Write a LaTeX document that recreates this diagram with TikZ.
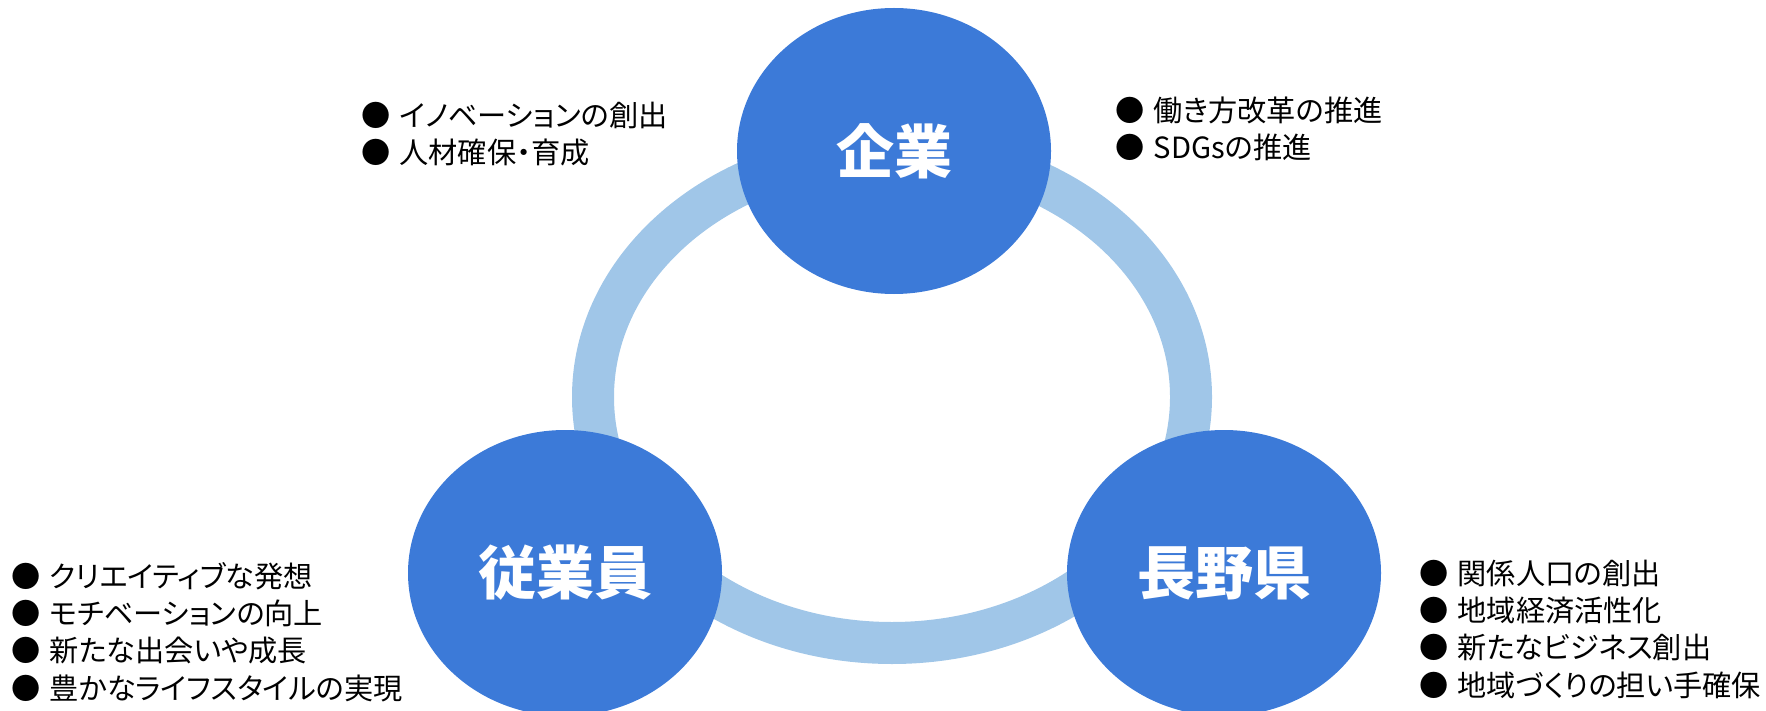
\documentclass[tikz,border=0pt]{standalone}
\usepackage{fontspec}
\setmainfont[RawFeature=+palt]{Noto Sans CJK JP}
\usetikzlibrary{shapes.geometric}
\definecolor{maruao}{RGB}{60,122,216}
\definecolor{waao}{RGB}{160,198,232}
\tikzset{
  maru/.style={ellipse, fill=maruao, text=white, inner sep=0pt,
    minimum width=157pt, minimum height=143pt,
    font=\fontsize{29}{34}\selectfont\bfseries},
  item/.style={anchor=west, inner sep=0pt, text=black}
}
\begin{document}
\begin{tikzpicture}[x=0.5pt, y=-0.5pt, font=\fontsize{14.6}{18}\selectfont, line join=round, line cap=round]
\useasboundingbox (0,0) rectangle (1766,711);
\def\dy{37.5}
\path (892,397) coordinate (C);
% ring
\draw[waao, line width=21pt] (C) ellipse [x radius=299, y radius=246];
% three actors
\node[maru] (kigyo) at (894,151) {企業};
\node[maru] (jugyoin) at (565,573) {従業員};
\node[maru] (nagano) at (1224,573) {長野県};
% lists
\foreach \t [count=\i] in {イノベーションの創出, 人材確保・育成}
  \node[item] (kl\i) at (361,{115+(\i-1)*\dy}) {●\hspace{4.5pt}\t};
\foreach \t [count=\i] in {働き方改革の推進, SDGsの推進}
  \node[item] (kr\i) at (1115,{110+(\i-1)*\dy}) {●\hspace{4.5pt}\t};
\foreach \t [count=\i] in {クリエイティブな発想, モチベーションの向上, 新たな出会いや成長, 豊かなライフスタイルの実現}
  \node[item] (ju\i) at (11,{576+(\i-1)*\dy}) {●\hspace{4.5pt}\t};
\foreach \t [count=\i] in {関係人口の創出, 地域経済活性化, 新たなビジネス創出, 地域づくりの担い手確保}
  \node[item] (na\i) at (1419,{573+(\i-1)*\dy}) {●\hspace{4.5pt}\t};
\end{tikzpicture}
\end{document}
